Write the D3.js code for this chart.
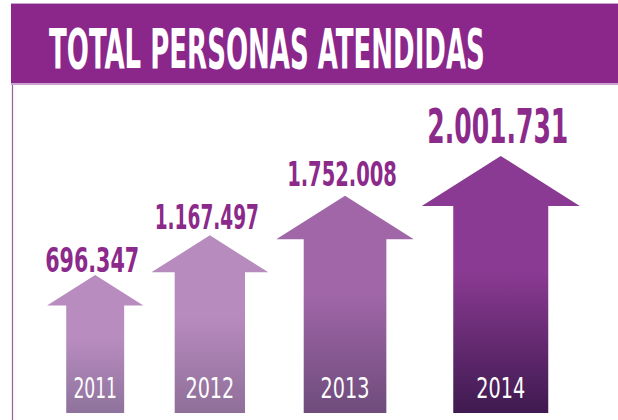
<!DOCTYPE html>
<html>
<head>
<meta charset="utf-8">
<script src="https://cdn.jsdelivr.net/npm/d3@7"></script>
<style>
  body { margin: 0; background: #fff; }
  svg { display: block; }
</style>
</head>
<body>
<div id="chart"></div>
<script>
// data
const years = ['2011', '2012', '2013', '2014'];
const personas = [696347, 1167497, 1752008, 2001731];
const titleText = 'TOTAL PERSONAS ATENDIDAS';

// gradient colours, top -> bottom of each arrow
const topColors = ['#b98cc0', '#b88bbe', '#a066a8', '#8a3a92'];
const bottomColors = ['#8e739c', '#8f6f99', '#6e4c7c', '#3f1a50'];

const width = 618;
const height = 420;
const baseY = 413;
const condensed = '"Liberation Sans Narrow", "DejaVu Sans Condensed", "Roboto", sans-serif';

const fmt = d3.formatLocale({ decimal: ',', thousands: '.', grouping: [3], currency: ['', ''] }).format(',d');

// rough width of a condensed-font string, in em
const emWidth = s => Array.from(s).reduce((w, c) => {
  if (c === '1') return w + 0.27;
  if (c === '.') return w + 0.21;
  return w + 0.44;
}, 0);

// squeeze a text horizontally to a target width (anchor: 'start' | 'middle')
function fitText(sel, x, y, target, anchor) {
  sel.each(function(d, i) {
    const t = d3.select(this);
    const w = this.getComputedTextLength();
    const tw = typeof target === 'function' ? target(d, i) : target;
    const xx = typeof x === 'function' ? x(d, i) : x;
    const yy = typeof y === 'function' ? y(d, i) : y;
    const sx = w > 0 ? tw / w : 1;
    t.attr('text-anchor', anchor)
      .attr('transform', `translate(${xx},${yy}) scale(${sx},1)`);
  });
}

const svg = d3.select('#chart')
  .append('svg')
  .attr('width', width)
  .attr('height', height);

// header band
svg.append('rect')
  .attr('x', 11).attr('y', 3)
  .attr('width', width - 11).attr('height', 82)
  .attr('fill', '#c9a3ce');
svg.append('rect')
  .attr('x', 11).attr('y', 4)
  .attr('width', width - 11).attr('height', 79)
  .attr('fill', '#8b268b');

const title = svg.append('text')
  .style('font-family', condensed)
  .style('font-weight', 'bold')
  .style('font-size', '56px')
  .attr('fill', '#fff')
  .text(titleText);
fitText(title, 49, 68, 436, 'start');

// left frame line
svg.append('line')
  .attr('x1', 12.5).attr('x2', 12.5)
  .attr('y1', 85).attr('y2', height)
  .attr('stroke', '#9c5aa3')
  .attr('stroke-width', 1.2);

// arrow geometry: scales over the category index
const n = years.length;
const size = d3.scaleLinear().domain([0, n - 1]).range([0.61, 1]);
const tip = d3.scaleLinear().domain([0, n - 1]).range([baseY - 138, baseY - 257]);
const labelGap = d3.scaleLinear().domain([0, n - 1]).range([3, 13]);
const maxVal = d3.max(personas);

const arrows = [];
let left = 47;
years.forEach((y, i) => {
  const k = size(i);
  const headW = 158 * k;
  const shaftW = 95 * k;
  const headH = 50 * k;
  const cx = left + headW / 2;
  arrows.push({ year: y, value: personas[i], i, cx, headW, shaftW, headH, tipY: tip(i) });
  left += headW + 8;
});

const defs = svg.append('defs');
arrows.forEach(a => {
  const g = defs.append('linearGradient')
    .attr('id', 'grad' + a.i)
    .attr('gradientUnits', 'userSpaceOnUse')
    .attr('x1', 0).attr('x2', 0)
    .attr('y1', a.tipY).attr('y2', baseY);
  g.append('stop').attr('offset', '0%').attr('stop-color', topColors[a.i]);
  g.append('stop').attr('offset', '45%').attr('stop-color', topColors[a.i]);
  g.append('stop').attr('offset', '100%').attr('stop-color', bottomColors[a.i]);
});

const arrowPath = a => {
  const p = d3.path();
  const hy = a.tipY + a.headH;
  p.moveTo(a.cx, a.tipY);
  p.lineTo(a.cx + a.headW / 2, hy);
  p.lineTo(a.cx + a.shaftW / 2, hy);
  p.lineTo(a.cx + a.shaftW / 2, baseY);
  p.lineTo(a.cx - a.shaftW / 2, baseY);
  p.lineTo(a.cx - a.shaftW / 2, hy);
  p.lineTo(a.cx - a.headW / 2, hy);
  p.closePath();
  return p.toString();
};

const groups = svg.append('g')
  .selectAll('g')
  .data(arrows)
  .enter()
  .append('g');

groups.append('path')
  .attr('d', arrowPath)
  .attr('fill', d => `url(#grad${d.i})`);

// year labels inside the shafts
const yearText = groups.append('text')
  .style('font-family', condensed)
  .style('font-size', '29px')
  .attr('fill', '#fff')
  .text(d => d.year);
fitText(yearText, d => d.cx, 398, d => 29 * emWidth(d.year) * 1.06, 'middle');

// value labels above the tips
const labelSize = d => d.value === maxVal ? 48 : 33;
const valueText = groups.append('text')
  .style('font-family', condensed)
  .style('font-weight', 'bold')
  .style('font-size', d => labelSize(d) + 'px')
  .attr('fill', '#8b2a8b')
  .text(d => fmt(d.value));
fitText(valueText, d => d.cx - 3, d => d.tipY - labelGap(d.i),
  d => labelSize(d) * emWidth(fmt(d.value)) * (d.value === maxVal ? 0.93 : 1), 'middle');
</script>
</body>
</html>
